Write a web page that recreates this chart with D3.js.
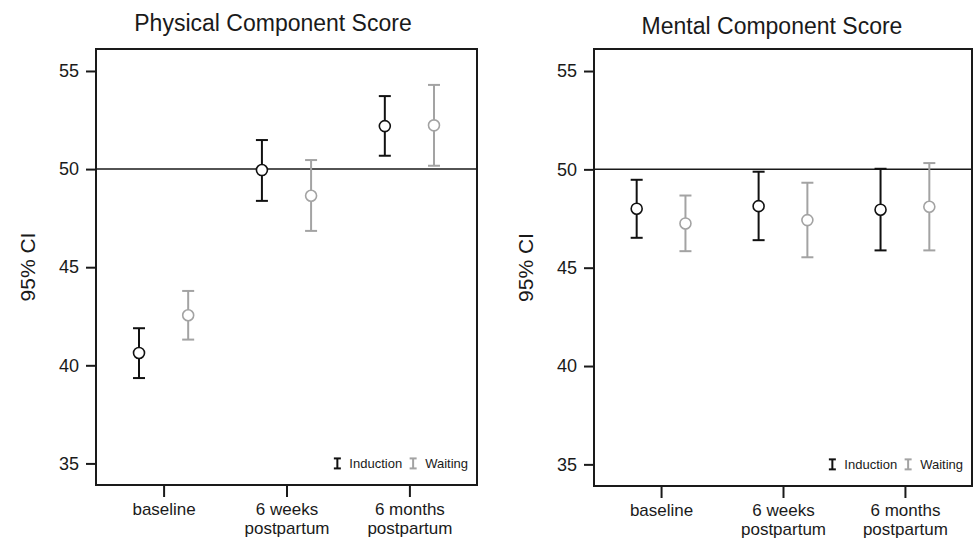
<!DOCTYPE html>
<html lang="en">
<head>
    <meta charset="UTF-8">
    <title>PCS / MCS 95% CI</title>
    <style>
        html, body { margin: 0; padding: 0; background: #fff; }
        svg { display: block; font-family: "Liberation Sans", Arial, Helvetica, sans-serif; }
    </style>
</head>
<body>
    <div id="wrapper"></div>
    <script src="https://cdn.jsdelivr.net/npm/d3@7"></script>
    <script>
        // 資料
        const timepoints = [["baseline"], ["6 weeks", "postpartum"], ["6 months", "postpartum"]];
        const groups = ["Induction", "Waiting"];
        const yTicks = [35, 40, 45, 50, 55];
        const refValue = 50;

        // Physical Component Score
        const pcsInductionMean = [40.63, 49.95, 52.19];
        const pcsInductionLow = [39.35, 48.38, 50.68];
        const pcsInductionHigh = [41.89, 51.48, 53.72];
        const pcsWaitingMean = [42.55, 48.64, 52.23];
        const pcsWaitingLow = [41.31, 46.85, 50.17];
        const pcsWaitingHigh = [43.79, 50.46, 54.29];

        // Mental Component Score
        const mcsInductionMean = [48.00, 48.13, 47.95];
        const mcsInductionLow = [46.52, 46.40, 45.88];
        const mcsInductionHigh = [49.47, 49.88, 50.03];
        const mcsWaitingMean = [47.25, 47.42, 48.10];
        const mcsWaitingLow = [45.84, 45.53, 45.88];
        const mcsWaitingHigh = [48.67, 49.32, 50.32];

        const colors = { Induction: "#111111", Waiting: "#a3a3a3" };

        const width = 973, height = 538;
        const svg = d3.select('#wrapper').append('svg')
            .attr('width', width)
            .attr('height', height);

        function toRows(mean, low, high) {
            return mean.map((m, i) => ({ i: i, mean: m, low: low[i], high: high[i] }));
        }

        const panels = [
            {
                title: "Physical Component Score",
                left: 96, right: 477, top: 49, bottom: 485, titleX: 273, titleY: 31,
                series: {
                    Induction: toRows(pcsInductionMean, pcsInductionLow, pcsInductionHigh),
                    Waiting: toRows(pcsWaitingMean, pcsWaitingLow, pcsWaitingHigh)
                }
            },
            {
                title: "Mental Component Score",
                left: 594, right: 972, top: 49, bottom: 486, titleX: 772, titleY: 34,
                series: {
                    Induction: toRows(mcsInductionMean, mcsInductionLow, mcsInductionHigh),
                    Waiting: toRows(mcsWaitingMean, mcsWaitingLow, mcsWaitingHigh)
                }
            }
        ];

        panels.forEach(p => drawPanel(p));

        function drawPanel(p) {
            const g = svg.append('g');

            const xScale = d3.scaleLinear()
                .domain([-0.55, 2.55])
                .range([p.left, p.right]);

            const yScale = d3.scaleLinear()
                .domain([33.9, 56.12])
                .range([p.bottom, p.top]);

            const offset = { Induction: -0.2, Waiting: 0.2 };

            // 標題
            g.append('text')
                .attr('x', p.titleX)
                .attr('y', p.titleY)
                .attr('text-anchor', 'middle')
                .style('font-size', '23px')
                .style('fill', '#1a1a1a')
                .text(p.title);

            // Y軸
            const yAxis = d3.axisLeft(yScale)
                .tickValues(yTicks)
                .tickSize(10)
                .tickPadding(7)
                .tickSizeOuter(0);

            const yAxisG = g.append('g')
                .attr('transform', `translate(${p.left},0)`)
                .call(yAxis);
            yAxisG.select('.domain').remove();
            yAxisG.selectAll('.tick line').attr('stroke', '#1a1a1a').attr('stroke-width', 2);
            yAxisG.selectAll('.tick text')
                .style('font-size', '18px')
                .style('font-family', '"Liberation Sans", Arial, sans-serif')
                .style('fill', '#1a1a1a');

            // Y軸標籤
            g.append('text')
                .attr('transform', `translate(${p.left - 61},${(p.top + p.bottom) / 2}) rotate(-90)`)
                .attr('text-anchor', 'middle')
                .style('font-size', '21px')
                .style('fill', '#1a1a1a')
                .text('95% CI');

            // X軸
            const xAxis = d3.axisBottom(xScale)
                .tickValues(d3.range(timepoints.length))
                .tickSize(12)
                .tickSizeOuter(0)
                .tickFormat('');

            const xAxisG = g.append('g')
                .attr('transform', `translate(0,${p.bottom})`)
                .call(xAxis);
            xAxisG.select('.domain').remove();
            xAxisG.selectAll('.tick line').attr('stroke', '#1a1a1a').attr('stroke-width', 2);

            // X軸文字 (兩行)
            xAxisG.selectAll('.tick')
                .append('text')
                .attr('text-anchor', 'middle')
                .style('font-size', '17px')
                .style('font-family', '"Liberation Sans", Arial, sans-serif')
                .style('fill', '#1a1a1a')
                .selectAll('tspan')
                .data(d => timepoints[d])
                .join('tspan')
                .attr('x', 0)
                .attr('y', (d, i) => 30 + i * 18.5)
                .text(d => d);

            // 50 參考線
            g.append('line')
                .attr('x1', p.left).attr('x2', p.right)
                .attr('y1', yScale(refValue)).attr('y2', yScale(refValue))
                .attr('stroke', '#1a1a1a')
                .attr('stroke-width', 1.5);

            // 誤差線 + 圓點
            groups.forEach(grp => {
                const rows = p.series[grp];
                const c = colors[grp];
                const bar = g.append('g').selectAll('g')
                    .data(rows)
                    .join('g');

                const cx = d => xScale(d.i + offset[grp]);

                bar.append('line')
                    .attr('x1', cx).attr('x2', cx)
                    .attr('y1', d => yScale(d.low))
                    .attr('y2', d => yScale(d.high))
                    .attr('stroke', c).attr('stroke-width', 2);

                ['low', 'high'].forEach(k => {
                    bar.append('line')
                        .attr('x1', d => cx(d) - 6).attr('x2', d => cx(d) + 6)
                        .attr('y1', d => yScale(d[k]))
                        .attr('y2', d => yScale(d[k]))
                        .attr('stroke', c).attr('stroke-width', 2);
                });

                bar.append('circle')
                    .attr('cx', cx)
                    .attr('cy', d => yScale(d.mean))
                    .attr('r', 5.5)
                    .attr('fill', '#fff')
                    .attr('stroke', c)
                    .attr('stroke-width', 1.6);
            });

            // 外框
            g.append('rect')
                .attr('x', p.left).attr('y', p.top)
                .attr('width', p.right - p.left)
                .attr('height', p.bottom - p.top)
                .attr('fill', 'none')
                .attr('stroke', '#1a1a1a')
                .attr('stroke-width', 2);

            // 圖例 (由右往左排)
            const legend = g.append('g');
            const ly = yScale(35);
            let lx = p.right - 9;
            groups.slice().reverse().forEach(grp => {
                const t = legend.append('text')
                    .attr('x', lx)
                    .attr('y', ly + 4.5)
                    .attr('text-anchor', 'end')
                    .style('font-size', '13px')
                    .style('fill', '#1a1a1a')
                    .text(grp);
                const tw = t.node().getComputedTextLength();
                const sx = lx - tw - 12;
                const c = colors[grp];
                legend.append('line')
                    .attr('x1', sx).attr('x2', sx)
                    .attr('y1', ly - 5).attr('y2', ly + 5)
                    .attr('stroke', c).attr('stroke-width', 2);
                [ly - 5, ly + 5].forEach(yy => {
                    legend.append('line')
                        .attr('x1', sx - 3.5).attr('x2', sx + 3.5)
                        .attr('y1', yy).attr('y2', yy)
                        .attr('stroke', c).attr('stroke-width', 2);
                });
                lx = sx - 11;
            });
        }
    </script>
</body>
</html>
